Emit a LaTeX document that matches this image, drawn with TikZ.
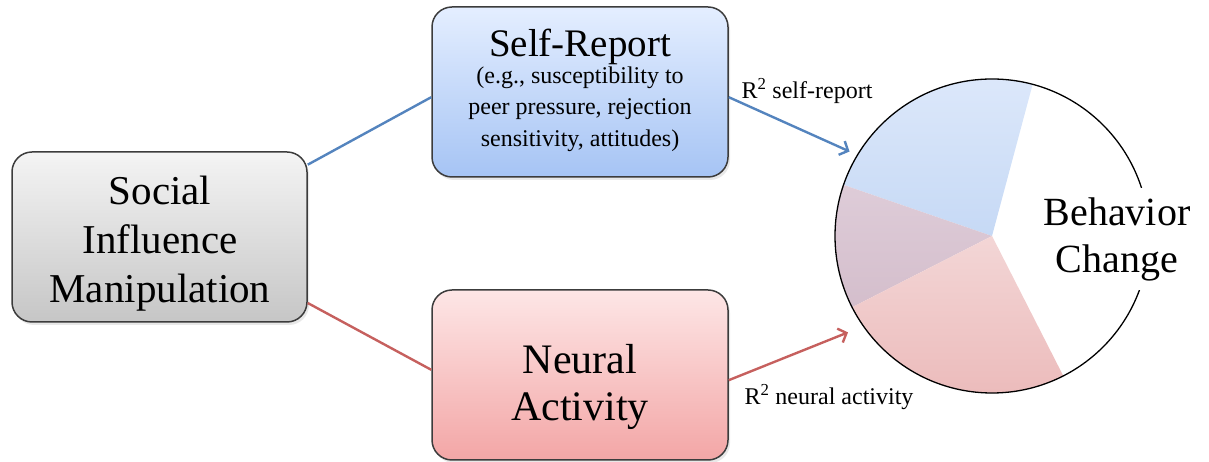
\documentclass[tikz,border=0pt]{standalone}
\usepackage{fontspec}
\setmainfont{Liberation Serif}
\newfontfamily\diagfont{Liberation Serif}
\usetikzlibrary{arrows.meta,shadows}

\definecolor{boxedge}{RGB}{60,60,60}
\definecolor{linkblue}{RGB}{84,132,190}
\definecolor{linkred}{RGB}{198,96,94}
\definecolor{greytop}{RGB}{244,244,244}
\definecolor{greybot}{RGB}{198,198,198}
\definecolor{bluetop}{RGB}{228,238,255}
\definecolor{bluebot}{RGB}{166,196,244}
\definecolor{redtop}{RGB}{253,230,230}
\definecolor{redbot}{RGB}{243,166,166}
\definecolor{pieblueA}{RGB}{222,233,251}
\definecolor{pieblueB}{RGB}{198,217,245}
\definecolor{piemauveA}{RGB}{222,204,216}
\definecolor{piemauveB}{RGB}{212,190,204}
\definecolor{piepinkA}{RGB}{243,214,214}
\definecolor{piepinkB}{RGB}{235,184,184}

\tikzset{
  box/.style={draw=boxedge, line width=1.5pt, rounded corners=20pt,
    minimum width=296pt, minimum height=170pt,
    drop shadow={opacity=0.18, shadow xshift=2pt, shadow yshift=-3pt}},
  bigtext/.style={align=center, inner sep=0pt, font=\diagfont\fontsize{41}{49}\selectfont},
  smalltext/.style={align=center, inner sep=0pt, font=\diagfont\fontsize{24}{31.5}\selectfont},
  link/.style={line width=2.4pt},
  arrowlink/.style={line width=2.4pt, -{Straight Barb[length=7pt,width=15pt]}},
}

\begin{document}
\begin{tikzpicture}[x=1pt, y=1pt]
\useasboundingbox (0,0) rectangle (1209,462);

% boxes
\node[box, top color=greytop, bottom color=greybot, minimum width=295pt] (social) at (159.5,225) {};
\node[box, top color=bluetop, bottom color=bluebot] (selfrep) at (580,370) {};
\node[box, top color=redtop, bottom color=redbot] (neural) at (580,87) {};

\node[bigtext] (socialtxt) at (160,218.5) {Social\\Influence\\Manipulation};
\node[bigtext, font=\diagfont\fontsize{39}{44}\selectfont, text depth=0pt] (srtitle) at (580,419) {Self-Report};
\node[smalltext] (srsub) at (580,353) {(e.g., susceptibility to\\peer pressure, rejection\\sensitivity, attitudes)};
\node[bigtext, font=\diagfont\fontsize{42}{47}\selectfont] (neuraltxt) at (580,75.5) {Neural\\Activity};

% pie
\coordinate (pc) at (992,226);
\shade[top color=pieblueA, bottom color=pieblueB] (pc) -- ++(75:157pt) arc[start angle=75, end angle=161, radius=157pt] -- cycle;
\shade[top color=piemauveA, bottom color=piemauveB] (pc) -- ++(161:157pt) arc[start angle=161, end angle=207, radius=157pt] -- cycle;
\shade[top color=piepinkA, bottom color=piepinkB] (pc) -- ++(207:157pt) arc[start angle=207, end angle=297, radius=157pt] -- cycle;
\node[circle, draw, line width=1.3pt, minimum size=314pt, inner sep=0pt] (behav) at (pc) {};
\node[bigtext, fill=white, inner xsep=3pt, inner ysep=9pt, font=\diagfont\fontsize{40}{47}\selectfont] (behavtxt) at (1117,223) {Behavior\\Change};

% connectors
\draw[link, linkblue] (social.26) -- (selfrep.182);
\draw[link, linkred] (social.-24) -- (neural.178);
\draw[arrowlink, linkblue, shorten >=8pt] (selfrep.-2) -- (behav.149);
\draw[arrowlink, linkred, shorten >=16pt] (neural.-2) -- (behav.215);

\node[smalltext] (r2self) at (807,371) {R\textsuperscript{2} self-report};
\node[smalltext] (r2neural) at (829,65) {R\textsuperscript{2} neural activity};
\end{tikzpicture}
\end{document}
